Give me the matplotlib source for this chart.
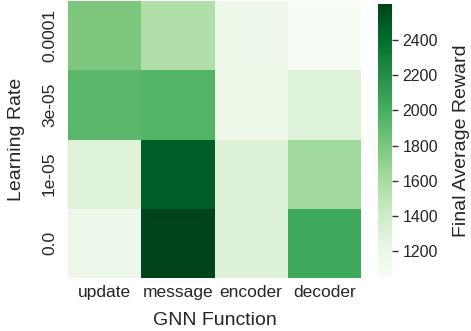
import matplotlib
matplotlib.use("Agg")
import matplotlib.pyplot as plt
import numpy as np
import pandas as pd
import seaborn as sns

functions = ["update", "message", "encoder", "decoder"]
learning_rates = ["0.0001", "3e-05", "1e-05", "0.0"]
rewards = [
    [1790, 1560, 1150, 1052],
    [1920, 1950, 1165, 1285],
    [1285, 2480, 1300, 1640],
    [1158, 2605, 1300, 2030],
]

sns.set_theme(style="white")
plt.rcParams["font.family"] = ["Liberation Sans", "DejaVu Sans"]

df = pd.DataFrame(rewards, index=learning_rates, columns=functions)

fig = plt.figure(figsize=(4.71, 3.31), dpi=100)
ax = fig.add_axes([68 / 471, 1 - 278 / 331, 293 / 471, 277 / 331])
cax = fig.add_axes([378 / 471, 1 - 277 / 331, 14 / 471, 273 / 331])

sns.heatmap(df, cmap="Greens", ax=ax, cbar_ax=cax,
            cbar_kws={"label": "Final Average Reward"})

ax.set_xlabel("GNN Function", fontsize=14, labelpad=9)
ax.set_ylabel("Learning Rate", fontsize=14, labelpad=12)
ax.tick_params(axis="x", labelsize=12.5, rotation=0, length=0, pad=5)
ax.tick_params(axis="y", labelsize=12.5, rotation=90, length=0, pad=8)
for t in ax.get_yticklabels():
    t.set_va("center")

cax.tick_params(labelsize=11.5, length=4, width=1, color="#333333", left=False, right=True)
cax.yaxis.label.set_size(14)
cax.yaxis.labelpad = 11
cbar = ax.collections[0].colorbar
cbar.set_ticks([1200, 1400, 1600, 1800, 2000, 2200, 2400])
cbar.outline.set_visible(False)

fig.savefig("out.png", dpi=100)
